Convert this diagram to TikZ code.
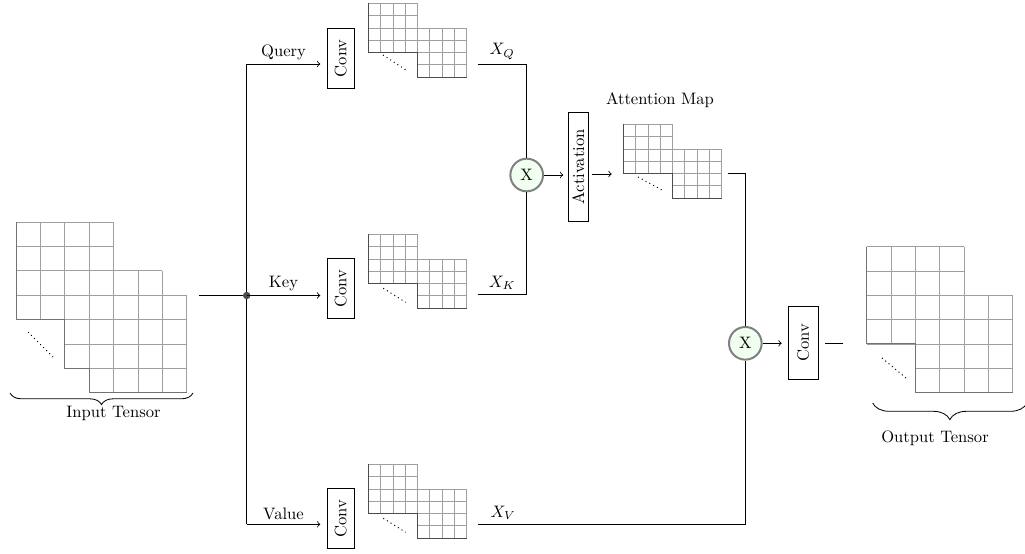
\documentclass[tikz,border=0pt]{standalone}
\usetikzlibrary{decorations.pathreplacing,calc}
\newcommand\tensgrid[3]{%
  \fill[white] (#1,#2) rectangle ({#1+4*#3},{#2+4*#3});
  \foreach \k in {0,...,4}{
    \draw[gridline] ({#1+\k*#3},#2) -- ({#1+\k*#3},{#2+4*#3});
    \draw[gridline] (#1,{#2+\k*#3}) -- ({#1+4*#3},{#2+\k*#3});
  }
}
\newcommand\smallstair[2]{%
  \draw[gridedge] (#1,#2) -- (#1,{#2+49.2}) -- ({#1+49.2},{#2+49.2}) -- ({#1+49.2},{#2+73.8}) -- ({#1+98.4},{#2+73.8});
}
\tikzset{
  gridline/.style={gray!75, line width=0.45pt},
  gridedge/.style={black!70, line width=0.5pt, line join=miter},
  bigedge/.style={black!55, line width=0.5pt},
  convbox/.style={draw, rotate=90, inner sep=0pt, minimum width=36.1pt, minimum height=16.3pt, line width=0.5pt},
  mult/.style={circle, draw=gray, line width=1.2pt, fill=green!6, minimum size=19.7pt, inner sep=0pt},
  conn/.style={line width=0.5pt},
  arr/.style={conn, ->},
  lbl/.style={above, inner sep=2.5pt},
  dots/.style={dotted, line width=0.6pt},
  brace/.style={decorate, decoration={brace, mirror, amplitude=#1}, line width=0.5pt},
}
\begin{document}
\begin{tikzpicture}[x=0.0212cm, y=-0.0212cm]
\useasboundingbox (0,0) rectangle (1025,553);

% input tensor
\tensgrid{89.2}{295.2}{24.4}
\tensgrid{64.8}{270.8}{24.4}
\tensgrid{16}{222}{24.4}
\draw[bigedge] (16,222) -- (16,319.6) -- (64.8,319.6) -- (64.8,368.4) -- (89.2,368.4) -- (89.2,392.8) -- (186.8,392.8);
\draw[dots] (28,332) -- (53,357);
\draw[brace=7pt] (10,393) -- (193,393);
\node (tin) at (113.5,413) {Input Tensor};

% output tensor
\tensgrid{915.3}{295.3}{24.3}
\tensgrid{866.7}{246.7}{24.3}
\draw[bigedge] (866.7,246.7) -- (866.7,343.9) -- (915.3,343.9) -- (915.3,392.5) -- (1012.5,392.5);
\draw[dots] (882,358) -- (906,378);
\draw[brace=10pt] (872.7,403) -- (1027,403);
\node (tout) at (935,438) {Output Tensor};

% small tensors
\tensgrid{417.5}{27.9}{12.3}
\tensgrid{368.3}{3.3}{12.3}
\smallstair{368.3}{3.3}
\draw[dots] (383,55) -- (406,70);
\tensgrid{417.5}{258.9}{12.3}
\tensgrid{368.3}{234.3}{12.3}
\smallstair{368.3}{234.3}
\draw[dots] (383.3,288.3) -- (405.7,302.3);
\tensgrid{417.5}{488.9}{12.3}
\tensgrid{368.3}{464.3}{12.3}
\smallstair{368.3}{464.3}
\draw[dots] (383.3,518.3) -- (405.7,532.3);
\tensgrid{672.5}{148.9}{12.3}
\tensgrid{623.3}{124.3}{12.3}
\smallstair{623.3}{124.3}
\draw[dots] (638,177) -- (662,190);
\node (attn) at (660,100) {Attention Map};

% boxes and multipliers
\node[convbox] (cq) at (340.8,58.3) {Conv};
\node[convbox] (ck) at (340.8,288.7) {Conv};
\node[convbox] (cv) at (340.8,518.7) {Conv};
\node[convbox, minimum width=44pt, minimum height=18pt] (co) at (803.3,343) {Conv};
\node[convbox, minimum width=66pt, minimum height=12pt] (act) at (578.3,166.7) {Activation};
\node[mult] (m1) at (526.7,175) {X};
\node[mult] (m2) at (745.3,343.3) {X};

% coordinates
\coordinate (in) at (198.5,295.5);
\coordinate (j) at (246.7,295.5);
\coordinate (jq) at (246.7,64);
\coordinate (jv) at (246.7,524.3);
\coordinate (aq) at (320.3,64);
\coordinate (ak) at (320.3,295.5);
\coordinate (av) at (320.3,524.3);
\coordinate (oq) at (477.7,64);
\coordinate (ok) at (477.7,294.3);
\coordinate (ov) at (477.7,524.3);
\coordinate (a1) at (563.3,175);
\coordinate (b1) at (591.7,174);
\coordinate (b2) at (611.7,174);
\coordinate (am) at (727.7,173.3);
\coordinate (a2) at (781.7,343.3);
\coordinate (c1) at (825,343.3);
\coordinate (c2) at (843.3,343.3);

% connectors
\draw[conn] (in) -- (j);
\draw[conn] (jq) -- (jv);
\node[circle, fill=black!70, inner sep=0pt, minimum size=4.5pt] (jdot) at (j) {};
\draw[arr] (jq) -- node[lbl] {Query} (aq);
\draw[arr] (j) -- node[lbl] {Key} (ak);
\draw[arr] (jv) -- node[lbl] {Value} (av);
\draw[conn] (oq) -- node[lbl] {$X_Q$} (oq -| m1) -- (m1);
\draw[conn] (ok) -- node[lbl] {$X_K$} (ok -| m1) -- (m1);
\draw[arr] (m1) -- (a1);
\draw[arr] (b1) -- (b2);
\draw[conn] (am) -- (am -| m2) -- (m2);
\draw[conn] (ov) -- node[lbl, pos=0.095] {$X_V$} (ov -| m2) -- (m2);
\draw[arr] (m2) -- (a2);
\draw[conn] (c1) -- (c2);
\end{tikzpicture}
\end{document}
